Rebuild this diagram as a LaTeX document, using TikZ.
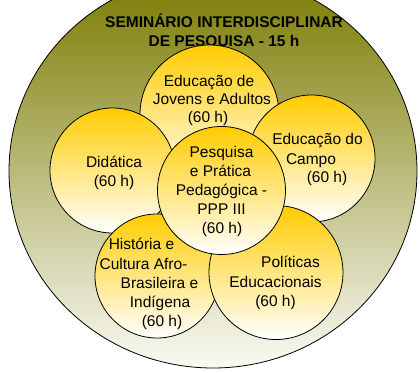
\documentclass[tikz,border=0pt]{standalone}
\usepackage{fontspec}
\setmainfont{Liberation Sans}
\definecolor{olivetop}{RGB}{122,122,0}
\definecolor{olivebot}{RGB}{250,250,244}
\definecolor{goldtop}{RGB}{255,204,0}
\tikzset{
  disc/.style={circle, draw=black, line width=0.8pt, inner sep=0pt, top color=goldtop, bottom color=white},
  txt/.style={anchor=base, inner sep=0pt, font=\fontsize{15.5}{18}\selectfont},
  ttl/.style={anchor=base, inner sep=0pt, font=\fontsize{15.5}{18}\selectfont\bfseries}
}
\begin{document}
\begin{tikzpicture}[x=1pt,y=-1pt]
\useasboundingbox (0,0) rectangle (420,372);
\begin{scope}
\clip (0,0) rectangle (420,372);
\path[draw=black, line width=0.8pt, top color=olivetop, bottom color=olivebot] (213,171) ellipse [x radius=204, y radius=197];
\end{scope}
\node[ttl] (t1) at (224,27.5) {SEMINÁRIO INTERDISCIPLINAR};
\node[ttl] (t2) at (224,46.5) {DE PESQUISA - 15 h};
% circles
\node[disc, minimum size=139pt] (eja) at (209.5,114.5) {};
\node[disc, minimum size=125pt] (did) at (112.5,170.5) {};
\node[disc, minimum size=127pt] (cam) at (311.5,158.5) {};
\node[disc, minimum size=124pt] (his) at (157,276) {};
\node[disc, minimum size=134pt] (pol) at (276,272.5) {};
\node[disc, minimum size=128pt] (ppp) at (221.5,190.5) {};
% texts
\node[txt] (eja1) at (209,86.5) {Educação de};
\node[txt] (eja2) at (212,104.5) {Jovens e Adultos};
\node[txt] (eja3) at (208,122.5) {(60 h)};
\node[txt] (did1) at (114,167.5) {Didática};
\node[txt] (did2) at (114,186.5) {(60 h)};
\node[txt] (cam1) at (317.5,144.5) {Educação do};
\node[txt] (cam2) at (311,164) {Campo};
\node[txt] (cam3) at (327,182.5) {(60 h)};
\node[txt] (ppp1) at (221.5,157.5) {Pesquisa};
\node[txt] (ppp2) at (220.5,176.5) {e Prática};
\node[txt] (ppp3) at (221.5,195.5) {Pedagógica -};
\node[txt] (ppp4) at (221.5,214.5) {PPP III};
\node[txt] (ppp5) at (222,233.5) {(60 h)};
\node[txt] (his1) at (141.5,249.5) {História e};
\node[txt] (his2) at (143.5,269) {Cultura Afro-};
\node[txt] (his3) at (159.5,288.5) {Brasileira e};
\node[txt] (his4) at (160,307.5) {Indígena};
\node[txt] (his5) at (162,326.5) {(60 h)};
\node[txt] (pol1) at (290.5,267.5) {Políticas};
\node[txt] (pol2) at (275.5,287.5) {Educacionais};
\node[txt] (pol3) at (275.5,306.5) {(60 h)};
\end{tikzpicture}
\end{document}
